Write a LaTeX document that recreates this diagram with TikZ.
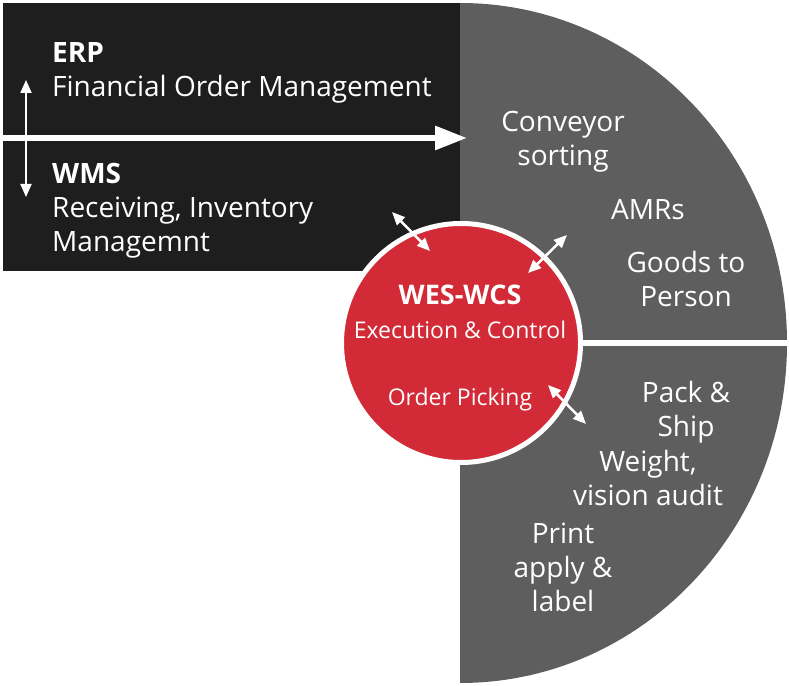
\documentclass[tikz,border=0pt]{standalone}
\usepackage{fontspec}
\setmainfont{Open Sans}
\usetikzlibrary{arrows.meta,positioning}

\definecolor{sysblack}{HTML}{1E1E1E}
\definecolor{zonegray}{HTML}{5E5E5E}
\definecolor{wesred}{HTML}{D22A36}

\begin{document}
\begin{tikzpicture}[
    x=1pt, y=1pt,
    zone/.style={text=white, font=\fontsize{28}{34}\selectfont, align=center, inner sep=0pt},
    sysname/.style={zone, align=left, anchor=west},
    core/.style={text=white, inner sep=0pt, font=\fontsize{23}{27}\selectfont},
    link/.style={white, line width=2.5pt, {Triangle[length=13pt,width=11pt]}-{Triangle[length=13pt,width=11pt]}},
    feed/.style={white, line width=6pt, -{Triangle[length=32pt,width=23pt]}}
]
\useasboundingbox (0,0) rectangle (789,685);

% back panels
\fill[sysblack] (3,414) rectangle (460,682);
\fill[zonegray] (460,682) arc[start angle=90, end angle=-90, x radius=327, y radius=340] -- cycle;
\coordinate (split) at (788,342);

% host systems
\node[sysname] (erp) at (52,612) {\textbf{ERP}\\Financial Order Management};
\node[sysname] (wms) at (52,474) {\textbf{WMS}\\Receiving, Inventory\\Managemnt};

\coordinate (feedin) at (0,547);
\coordinate (feedout) at (467,547);
\draw[feed] (feedin) -- (feedout);
\coordinate (erpend) at (26,605);
\coordinate (wmsend) at (26,488);
\draw[link, line width=2pt] (erpend) -- (wmsend);

% automation zones
\node[zone] (conveyor) at (563,543) {Conveyor\\sorting};
\node[zone] (amrs) at (648,475) {AMRs};
\node[zone] (gtp) at (686,406) {Goods to\\Person};
\node[zone] (pack) at (686,273) {Pack \&\\Ship};
\node[zone] (weight) at (648,207) {Weight,\\vision audit};
\node[zone] (print) at (563,118) {Print\\apply \&\\label};

% execution layer
\node[circle, fill=wesred, draw=white, line width=5pt, minimum size=239pt] (wes) at (461,342) {};
\draw[white, line width=6pt] (wes.east) -- (split);
\node[core, font=\fontsize{27}{32}\selectfont\bfseries] (wesname) at (460,390) {WES-WCS};
\node[core] (wesctl) at (460,355) {Execution \& Control};
\node[core] (picking) at (460,285) {Order Picking};

\coordinate (l1a) at (392,473); \coordinate (l1b) at (430,434);
\coordinate (l2a) at (567,450); \coordinate (l2b) at (528,412);
\coordinate (l3a) at (548,300); \coordinate (l3b) at (586,261);
\draw[link] (l1a) -- (l1b);
\draw[link] (l2a) -- (l2b);
\draw[link] (l3a) -- (l3b);
\end{tikzpicture}
\end{document}
